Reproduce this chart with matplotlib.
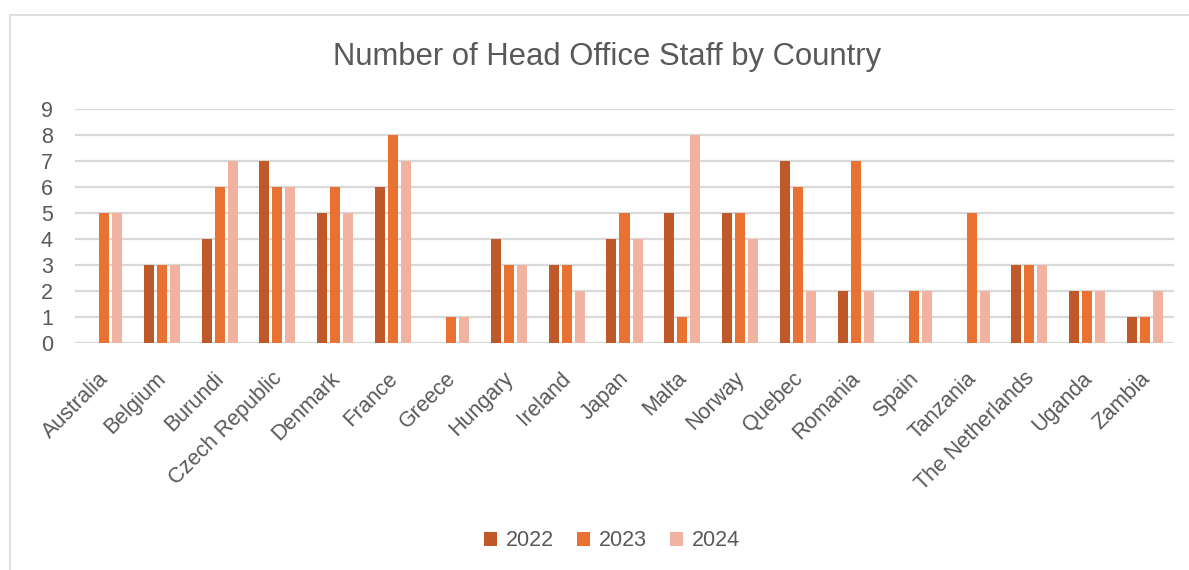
import matplotlib
matplotlib.use("Agg")
import matplotlib.pyplot as plt
import matplotlib.transforms as mtransforms
from matplotlib.patches import Rectangle
import numpy as np

countries = ["Australia", "Belgium", "Burundi", "Czech Republic", "Denmark", "France",
             "Greece", "Hungary", "Ireland", "Japan", "Malta", "Norway", "Quebec",
             "Romania", "Spain", "Tanzania", "The Netherlands", "Uganda", "Zambia"]
staff_2022 = [0, 3, 4, 7, 5, 6, 0, 4, 3, 4, 5, 5, 7, 2, 0, 0, 3, 2, 1]
staff_2023 = [5, 3, 6, 6, 6, 8, 1, 3, 3, 5, 1, 5, 6, 7, 2, 5, 3, 2, 1]
staff_2024 = [5, 3, 7, 6, 5, 7, 1, 3, 2, 4, 8, 4, 2, 2, 2, 2, 3, 2, 2]
years = ["2022", "2023", "2024"]
colors = ["#C0592A", "#E97132", "#F2B2A2"]

plt.rcParams["font.family"] = ["Liberation Sans", "DejaVu Sans"]
text_color = "#595959"
grid_color = "#D9D9D9"

W, H = 1189, 570
fig = plt.figure(figsize=(W / 100, H / 100), dpi=100)
ax = fig.add_axes([75 / W, 1 - 343 / H, (1174 - 75) / W, (343 - 109) / H])

x = np.arange(len(countries))
pitch = 0.225
bw = 0.173
for i, (vals, yr, c) in enumerate(zip([staff_2022, staff_2023, staff_2024], years, colors)):
    ax.bar(x + (i - 1) * pitch, vals, width=bw, color=c, label=yr, zorder=3)

ax.set_xlim(-0.5, len(countries) - 0.5)
ax.set_ylim(0, 9)
ax.set_yticks(range(0, 10))
ax.yaxis.grid(True, color=grid_color, linewidth=1.6, zorder=0)
ax.set_axisbelow(True)
for s in ax.spines.values():
    s.set_visible(False)
ax.tick_params(axis="both", length=0, colors=text_color, labelsize=15.5)
ax.tick_params(axis="y", pad=16)
ax.set_xticks(x)
ax.set_xticklabels(countries, rotation=45, ha="right", rotation_mode="anchor")
ax.tick_params(axis="x", pad=18)
shift = mtransforms.ScaledTranslation(-6 / 100, 0, fig.dpi_scale_trans)
for lbl in ax.get_xticklabels():
    lbl.set_transform(lbl.get_transform() + shift)

fig.text(607 / W, 1 - 57 / H, "Number of Head Office Staff by Country",
         ha="center", va="center", fontsize=22.3, color=text_color)

leg = fig.legend(loc="center", bbox_to_anchor=(612 / W, 1 - 541 / H), ncol=3,
                 frameon=False, fontsize=15.5, handlelength=0.6, handleheight=0.6,
                 columnspacing=1.1, handletextpad=0.4)
for t in leg.get_texts():
    t.set_color(text_color)

fig.patches.append(Rectangle((10 / W, -0.1), 1.2, 1.1 - 15 / H, transform=fig.transFigure,
                             fill=False, edgecolor=grid_color, linewidth=1.2))

fig.savefig("out.png", dpi=100)
